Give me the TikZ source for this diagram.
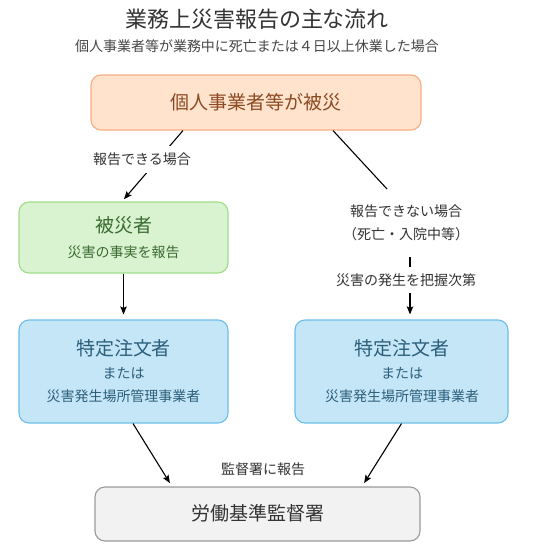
\documentclass[tikz,border=0pt]{standalone}
\usepackage{fontspec}
\setmainfont{Noto Sans CJK JP}
\usetikzlibrary{arrows.meta}
\definecolor{orfill}{HTML}{FFE3CC}
\definecolor{ordraw}{HTML}{F6AE86}
\definecolor{ortext}{HTML}{8B4A22}
\definecolor{grfill}{HTML}{D9F3D0}
\definecolor{grdraw}{HTML}{9EDD8A}
\definecolor{grtext}{HTML}{3B6B33}
\definecolor{blfill}{HTML}{C5E6F6}
\definecolor{bldraw}{HTML}{6CBEE8}
\definecolor{bltext}{HTML}{2C5F7C}
\definecolor{gyfill}{HTML}{F2F2F2}
\definecolor{gydraw}{HTML}{9A9A9A}
\definecolor{txt}{HTML}{333333}
\tikzset{
  box/.style={rounded corners=10pt, line width=1.1pt, inner sep=0pt},
  ttl/.style={inner sep=0pt, font=\fontsize{22}{26}\selectfont, text height=19.4pt, text depth=2.6pt, text=txt},
  big/.style={inner sep=0pt, font=\fontsize{19}{23}\selectfont, text height=16.7pt, text depth=2.3pt},
  sml/.style={inner sep=0pt, font=\fontsize{14}{17}\selectfont, text height=12.3pt, text depth=1.7pt},
  arr/.style={line width=1.1pt, -{Stealth[length=8pt,width=6.5pt,inset=1.5pt]}},
  ln/.style={line width=1.1pt}
}
\begin{document}
\begin{tikzpicture}[x=1pt,y=-1pt]
\useasboundingbox[fill=white] (0,0) rectangle (539,555);
% title
\node[ttl] (title) at (257,19) {業務上災害報告の主な流れ};
\node[sml, text=txt!90] (sub) at (257,46.5) {個人事業者等が業務中に死亡または４日以上休業した場合};
% boxes
\node[box, fill=orfill, draw=ordraw, minimum width=330pt, minimum height=55pt] (top) at (256,102.5) {};
\node[big, text=ortext] (toptxt) at (256,102) {個人事業者等が被災};
\node[box, fill=grfill, draw=grdraw, minimum width=209pt, minimum height=71pt] (green) at (123.5,237.5) {};
\node[big, text=grtext] (g1) at (123.5,225) {被災者};
\node[sml, text=grtext] (g2) at (123.5,252) {災害の事実を報告};
\node[box, fill=blfill, draw=bldraw, minimum width=209pt, minimum height=103pt] (bl) at (123.5,371.5) {};
\node[big, text=bltext] (bl1) at (123.5,348) {特定注文者};
\node[sml, text=bltext] (bl2) at (123.5,373) {または};
\node[sml, text=bltext] (bl3) at (123.5,396) {災害発生場所管理事業者};
\node[box, fill=blfill, draw=bldraw, minimum width=213pt, minimum height=103pt] (br) at (401.5,371.5) {};
\node[big, text=bltext] (br1) at (402,348) {特定注文者};
\node[sml, text=bltext] (br2) at (402,373) {または};
\node[sml, text=bltext] (br3) at (402,396) {災害発生場所管理事業者};
\node[box, fill=gyfill, draw=gydraw, minimum width=325pt, minimum height=54pt] (lab) at (257.5,514) {};
\node[big, text=txt] (labtxt) at (257.5,513) {労働基準監督署};
% left branch
\draw[arr, shorten >=3pt] ([xshift=-73pt]top.south) -- ([xshift=-1.5pt]green.north);
\node[sml, text=txt, fill=white, minimum height=27pt] (l1) at (142,159) {報告できる場合};
\draw[arr, shorten >=5pt] (green.south) -- (bl.north);
% right branch
\coordinate (r1) at (387,189);
\draw[ln] ([xshift=77pt]top.south) -- (r1);
\node[sml, text=txt] (r2a) at (406,211) {報告できない場合};
\node[sml, text=txt] (r2b) at (406,234) {（死亡・入院中等）};
\coordinate (r3) at (410,257);
\draw[arr, shorten >=5pt] (r3) -- (r3 |- br.north);
\node[sml, text=txt, fill=white, minimum height=26pt] (r4) at (406,280) {災害の発生を把握次第};
% to bureau
\draw[arr, shorten >=4pt] ([xshift=9.5pt]bl.south) -- ([xshift=-85.5pt]lab.north);
\draw[arr, shorten >=4pt] (br.south) -- ([xshift=104.5pt]lab.north);
\node[sml, text=txt] (rep) at (263,469) {監督署に報告};
\end{tikzpicture}
\end{document}
